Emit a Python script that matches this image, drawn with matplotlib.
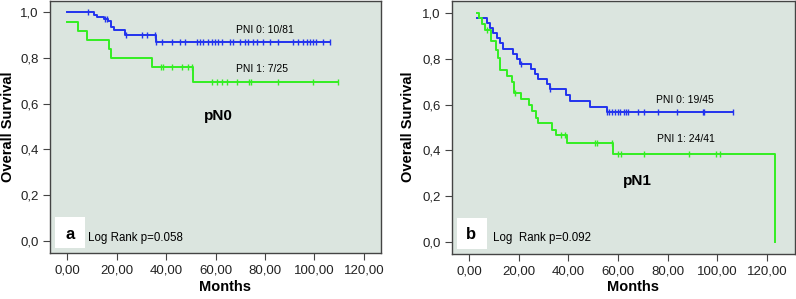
import matplotlib
matplotlib.use("Agg")
import matplotlib.pyplot as plt
from matplotlib.patches import Rectangle

plt.rcParams["font.family"] = ["Liberation Sans", "DejaVu Sans"]

# ── Panel a: pN0 ──
a_pni0_t = [0, 11.0, 12.0, 15.0, 16.4, 17.8, 18.9, 23.4, 35.8, 106.3]
a_pni0_s = [1.0, 0.988, 0.977, 0.968, 0.959, 0.936, 0.921, 0.900, 0.868, 0.868]
a_pni0_cens_t = [8.6, 15.5, 16.0, 23.9, 30.1, 32.4, 35.6,
                 35.8, 38.2, 42.3, 45.7, 47.7, 52.4, 53.7, 55.1, 57.1, 58.5,
                 59.8, 61.1, 62.5, 65.9, 67.2, 69.9, 71.9, 73.3, 75.3, 76.6,
                 79.3, 82.0, 85.4, 91.4, 93.5, 95.5, 96.8, 98.2, 99.5, 100.8,
                 103.5, 106.3]
a_pni1_t = [0, 4.6, 8.2, 17.0, 17.8, 34.2, 50.8, 109.6]
a_pni1_s = [0.958, 0.916, 0.878, 0.838, 0.798, 0.758, 0.696, 0.696]
a_pni1_cens_t = [38.0, 38.9, 42.3, 46.3, 49.0, 50.4,
                 58.5, 60.5, 62.5, 64.5, 68.6, 73.7, 74.2, 85.4, 99.5, 109.6]

# ── Panel b: pN1 ──
b_pni0_t = [3.1, 7.4, 8.5, 9.8, 11.1, 12.5, 13.6, 17.9, 19.4, 20.5, 24.9,
            26.6, 27.9, 31.3, 32.6, 38.9, 40.6, 48.7, 55.4, 106.4]
b_pni0_s = [0.978, 0.956, 0.933, 0.911, 0.889, 0.867, 0.844, 0.822, 0.800,
            0.778, 0.756, 0.733, 0.711, 0.689, 0.667, 0.640, 0.615, 0.590,
            0.567, 0.567]
b_pni0_cens_t = [20.9, 32.8, 55.4, 56.5, 57.4, 58.8, 60.1, 60.8, 62.4, 63.2,
                 64.1, 68.1, 70.4, 76.2, 83.8, 94.1, 94.6, 106.4]
b_pni1_t = [3.1, 4.2, 5.1, 6.4, 8.7, 10.9, 11.8, 12.5, 15.4, 17.2, 18.2,
            20.8, 24.3, 25.2, 27.0, 27.6, 33.3, 35.0, 39.3, 58.1, 123.1]
b_pni1_s = [1.0, 0.976, 0.951, 0.927, 0.878, 0.840, 0.805, 0.752, 0.723,
            0.700, 0.651, 0.626, 0.600, 0.571, 0.543, 0.520, 0.489, 0.466,
            0.434, 0.385, 0.0]
b_pni1_cens_t = [7.4, 18.5, 37.0, 38.6, 50.7, 51.4, 57.4,
                 60.1, 61.2, 70.4, 88.6, 99.4, 101.0]

x_ticks = [0, 20, 40, 60, 80, 100, 120]
x_labels = ["0,00", "20,00", "40,00", "60,00", "80,00", "100,00", "120,00"]
y_ticks = [0.0, 0.2, 0.4, 0.6, 0.8, 1.0]
y_labels = ["0,0", "0,2", "0,4", "0,6", "0,8", "1,0"]

BLUE = "#2233ee"
GREEN = "#33ee22"
BG = "#dbe5df"
EDGE = "#444444"


def level_at(times, surv, t):
    """Survival value of a step curve at time t."""
    val = surv[0]
    for ti, si in zip(times, surv):
        if ti <= t:
            val = si
    return val


def km_curve(ax, times, surv, cens, color):
    ax.step(times, surv, where="post", color=color, lw=1.4)
    cy = [level_at(times[:-1], surv[:-1], c) for c in cens]
    ax.plot(cens, cy, ls="none", marker="|", ms=4.5, mew=1.0, color=color)


def style_axes(ax, xlim, ylim):
    ax.set_facecolor(BG)
    ax.set_xlim(*xlim)
    ax.set_ylim(*ylim)
    ax.set_xticks(x_ticks)
    ax.set_xticklabels(x_labels)
    ax.set_yticks(y_ticks)
    ax.set_yticklabels(y_labels)
    for sp in ax.spines.values():
        sp.set_color(EDGE)
        sp.set_linewidth(1.0)
    ax.tick_params(direction="out", length=5, width=0.8, color=EDGE,
                   labelsize=9.5, labelcolor="#222222", pad=3)


fig = plt.figure(figsize=(7.96, 2.99), dpi=100)
ax_a = fig.add_axes([50 / 796, 46 / 299, 331 / 796, 252.5 / 299])
ax_b = fig.add_axes([452 / 796, 45 / 299, 343 / 796, 253.5 / 299])

style_axes(ax_a, (-6.9, 126.9), (-0.052, 1.05))
style_axes(ax_b, (-6.84, 131.2), (-0.052, 1.054))

km_curve(ax_a, a_pni0_t, a_pni0_s, a_pni0_cens_t, BLUE)
km_curve(ax_a, a_pni1_t, a_pni1_s, a_pni1_cens_t, GREEN)
km_curve(ax_b, b_pni0_t, b_pni0_s, b_pni0_cens_t, BLUE)
km_curve(ax_b, b_pni1_t, b_pni1_s, b_pni1_cens_t, GREEN)

# Annotations, panel a
ax_a.text(80, 0.921, "PNI 0: 10/81", fontsize=7.5, ha="center", va="center")
ax_a.text(78.8, 0.751, "PNI 1: 7/25", fontsize=7.5, ha="center", va="center")
ax_a.text(61, 0.546, "pN0", fontsize=11, fontweight="bold", ha="center", va="center")
ax_a.text(8.5, 0.012, "Log Rank p=0.058", fontsize=8.3, ha="left", va="center")
ax_a.add_patch(Rectangle((0.015, 0.02), 0.091, 0.123, transform=ax_a.transAxes,
                         facecolor="white", edgecolor="none"))
ax_a.text(1.2, 0.03, "a", fontsize=12, fontweight="bold", ha="center", va="center")

# Annotations, panel b
ax_b.text(86.7, 0.62, "PNI 0: 19/45", fontsize=7.5, ha="center", va="center")
ax_b.text(87.3, 0.45, "PNI 1: 24/41", fontsize=7.5, ha="center", va="center")
ax_b.text(67.8, 0.268, "pN1", fontsize=11, fontweight="bold", ha="center", va="center")
ax_b.text(9.5, 0.017, "Log  Rank p=0.092", fontsize=8.3, ha="left", va="center")
ax_b.add_patch(Rectangle((0.0137, 0.02), 0.088, 0.123, transform=ax_b.transAxes,
                         facecolor="white", edgecolor="none"))
ax_b.text(0.8, 0.035, "b", fontsize=12, fontweight="bold", ha="center", va="center")

# Axis titles
for xc in (225, 633):
    fig.text(xc / 796, 1 - 287 / 299, "Months", fontsize=10.5, fontweight="bold",
             ha="center", va="center")
for xc in (8, 408):
    fig.text(xc / 796, 1 - 127 / 299, "Overall Survival", fontsize=10.5,
             fontweight="bold", rotation=90, ha="center", va="center")

fig.savefig("out.png", dpi=100)
